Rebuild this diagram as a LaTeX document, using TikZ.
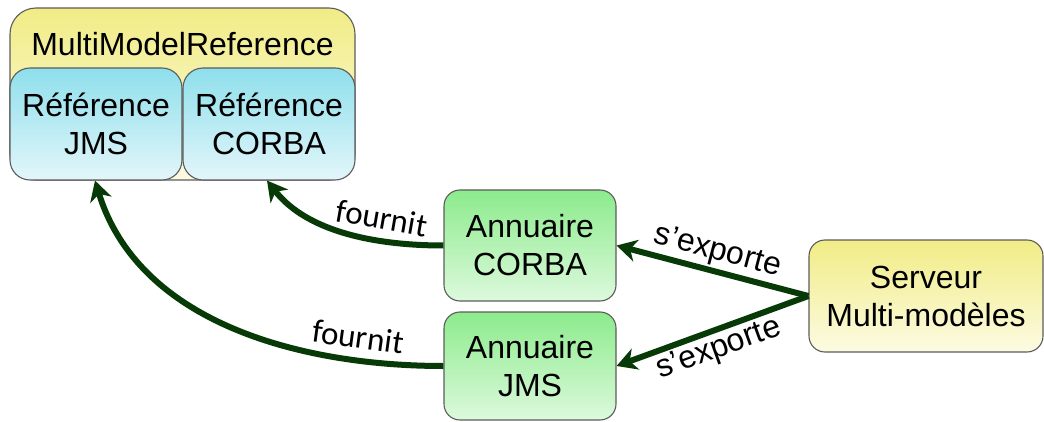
\documentclass[tikz,border=0pt]{standalone}
\usepackage{fontspec}
\setmainfont{Liberation Sans}
\newfontfamily\lblfont{Carlito}
\usetikzlibrary{arrows.meta}
\definecolor{yelTop}{HTML}{F1EC86}
\definecolor{yelBot}{HTML}{FCFBE2}
\definecolor{cyTop}{HTML}{8EDFEC}
\definecolor{cyBot}{HTML}{E3F6FA}
\definecolor{grTop}{HTML}{8CEB8C}
\definecolor{grBot}{HTML}{DDF9DD}
\definecolor{edgeGray}{HTML}{5C5C5C}
\definecolor{arrGreen}{HTML}{073A07}
\tikzset{
  box/.style={draw=edgeGray, line width=1.1pt, inner sep=0pt, align=center,
    font=\fontsize{32}{38}\selectfont},
  yelbox/.style={box, top color=yelTop, bottom color=yelBot},
  cybox/.style={box, top color=cyTop, bottom color=cyBot, rounded corners=20pt,
    minimum width=172pt, minimum height=112pt},
  grbox/.style={box, top color=grTop, bottom color=grBot, rounded corners=16pt,
    minimum width=172pt},
  conn/.style={draw=arrGreen, line width=6pt,
    -{Stealth[length=20pt,width=22pt,inset=6pt]}},
  lbl/.style={text=black, font=\fontsize{32}{36}\selectfont},
  flbl/.style={text=black, font=\lblfont\fontsize{33}{36}\selectfont}
}
\begin{document}
\begin{tikzpicture}[x=1pt,y=1pt]
\useasboundingbox (0,0) rectangle (1044,421);
% outer container
\node[yelbox, rounded corners=26pt, minimum width=345pt, minimum height=172pt] (outer) at (182.5,327) {};
\node[font=\fontsize{32}{38}\selectfont] (title) at (182.5,377) {MultiModelReference};
\node[cybox] (refJ) at (96,297) {Référence\\JMS};
\node[cybox] (refC) at (269,297) {Référence\\CORBA};
% directories
\node[grbox, minimum height=111pt] (annC) at (530,175.5) {Annuaire\\CORBA};
\node[grbox, minimum height=108pt] (annJ) at (530,55) {Annuaire\\JMS};
% server
\node[yelbox, rounded corners=16pt, minimum width=234pt, minimum height=112pt] (serv) at (926,125) {Serveur\\Multi-modèles};
% export arrows
\draw[conn] (serv.west) -- node[lbl, midway, above, sloped, inner sep=2pt] {s’exporte} (annC.east);
\draw[conn] (serv.west) -- node[lbl, midway, below, sloped, inner sep=2pt] {s’exporte} (annJ.east);
% provide arrows
\draw[conn] (annC.west) to[out=180, in=-52, looseness=0.9] node[flbl, pos=0.33, above, sloped, inner sep=8pt] {fournit} ([xshift=-2pt]refC.south);
\draw[conn] (annJ.west) to[out=180, in=-73, looseness=0.95] node[flbl, pos=0.2, above, sloped, inner sep=9pt] {fournit} ([xshift=-1pt]refJ.south);
\end{tikzpicture}
\end{document}
